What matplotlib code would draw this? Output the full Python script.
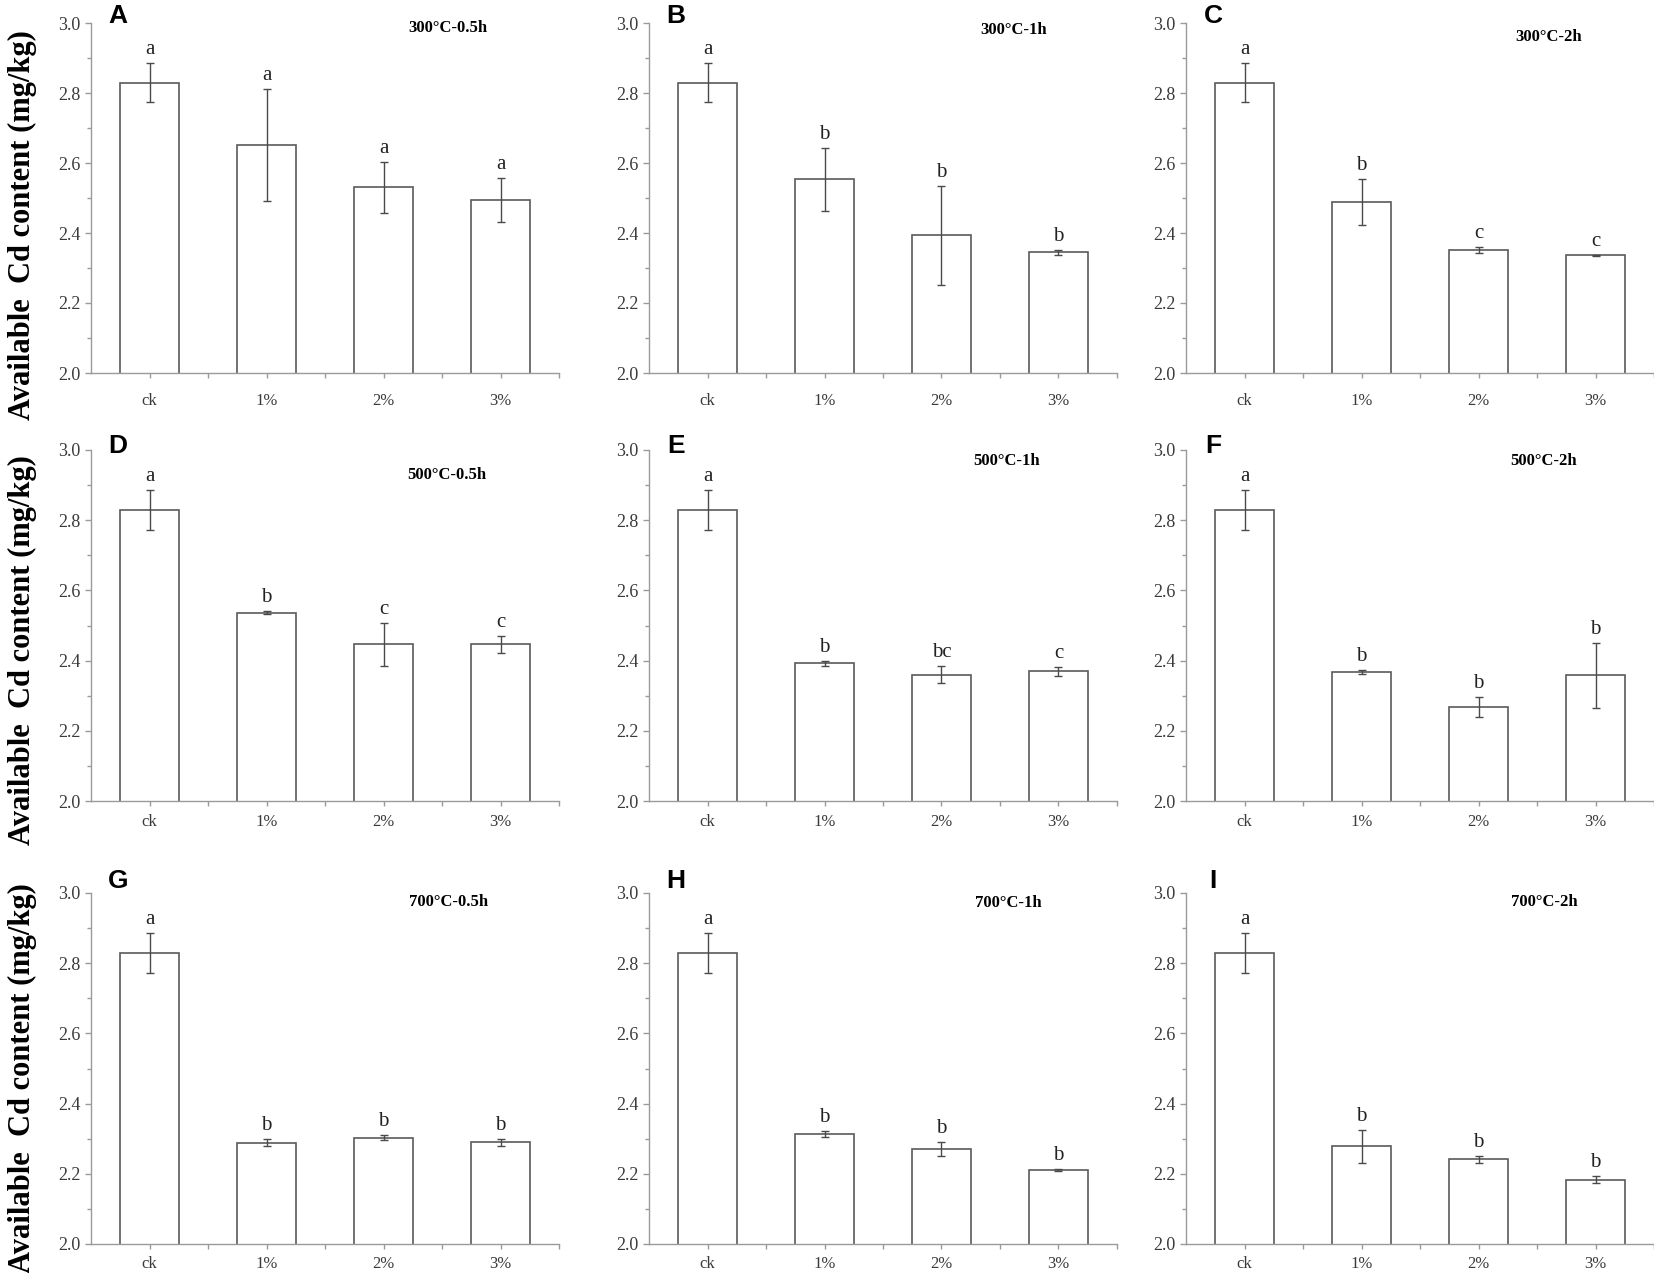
import numpy as np
import matplotlib
matplotlib.use("Agg")
import matplotlib.pyplot as plt
from matplotlib.ticker import MultipleLocator, FixedLocator, FormatStrFormatter

# treatment levels
categories = ["ck", "1%", "2%", "3%"]
panel_letters = ["A", "B", "C", "D", "E", "F", "G", "H", "I"]
panel_titles = ["300°C-0.5h", "300°C-1h", "300°C-2h",
                "500°C-0.5h", "500°C-1h", "500°C-2h",
                "700°C-0.5h", "700°C-1h", "700°C-2h"]

# available Cd content (mg/kg), mean per treatment
means = [
    [2.83, 2.651, 2.531, 2.495],
    [2.83, 2.553, 2.393, 2.345],
    [2.83, 2.489, 2.351, 2.336],
    [2.83, 2.536, 2.446, 2.446],
    [2.83, 2.392, 2.360, 2.370],
    [2.83, 2.367, 2.267, 2.358],
    [2.83, 2.288, 2.303, 2.290],
    [2.83, 2.314, 2.270, 2.210],
    [2.83, 2.279, 2.241, 2.183],
]
# standard deviations
errors = [
    [0.057, 0.160, 0.073, 0.063],
    [0.057, 0.090, 0.141, 0.007],
    [0.057, 0.066, 0.008, 0.002],
    [0.057, 0.004, 0.060, 0.025],
    [0.057, 0.006, 0.025, 0.013],
    [0.057, 0.005, 0.028, 0.093],
    [0.057, 0.010, 0.008, 0.010],
    [0.057, 0.009, 0.020, 0.003],
    [0.057, 0.047, 0.010, 0.010],
]
# significance letters
sig = [
    ["a", "a", "a", "a"],
    ["a", "b", "b", "b"],
    ["a", "b", "c", "c"],
    ["a", "b", "c", "c"],
    ["a", "b", "bc", "c"],
    ["a", "b", "b", "b"],
    ["a", "b", "b", "b"],
    ["a", "b", "b", "b"],
    ["a", "b", "b", "b"],
]

W, H = 1654, 1273
fig = plt.figure(figsize=(W / 100, H / 100), dpi=100)

col_left = [91, 649, 1186]
ax_w = 468
row_tb = [(23, 373), (450, 801), (893, 1244)]
xlab_pad = [11, 5.5, 5.5]
title_xy = [(0.763, 0.986), (0.78, 0.98), (0.775, 0.96),
            (0.76, 0.93), (0.763, 0.97), (0.765, 0.97),
            (0.765, 0.974), (0.768, 0.971), (0.765, 0.974)]
letter_dy = [1.02, 1.012, 1.035]
ylabel_cy = [225, 650, 1078]

axis_grey = "#9a9a9a"
text_grey = "#3a3a3a"
serif = "Liberation Serif"

for k in range(9):
    r, c = divmod(k, 3)
    top, bot = row_tb[r]
    ax = fig.add_axes([col_left[c] / W, (H - bot) / H, ax_w / W, (bot - top) / H])
    x = np.arange(len(categories))
    ax.bar(x, means[k], width=0.5, bottom=0, color="white",
           edgecolor="#5a5a5a", linewidth=1.2, zorder=2)
    ax.errorbar(x, means[k], yerr=errors[k], fmt="none", ecolor="#4a4a4a",
                elinewidth=1.0, capsize=2.6, capthick=1.0, zorder=3)
    for xi, m, e, s in zip(x, means[k], errors[k], sig[k]):
        ax.annotate(s, (xi, m + e), xytext=(0, 9), textcoords="offset pixels",
                    ha="center", va="baseline", fontsize=15,
                    family=serif, color="#222222")

    ax.set_xlim(-0.5, 3.5)
    ax.set_ylim(2.0, 3.0)
    ax.set_xticks(x)
    ax.set_xticklabels(categories)
    ax.xaxis.set_minor_locator(FixedLocator([0.5, 1.5, 2.5, 3.5]))
    ax.yaxis.set_major_locator(MultipleLocator(0.2))
    ax.yaxis.set_minor_locator(MultipleLocator(0.1))
    ax.yaxis.set_major_formatter(FormatStrFormatter("%.1f"))

    for side in ["top", "right"]:
        ax.spines[side].set_visible(False)
    for side in ["left", "bottom"]:
        ax.spines[side].set_color(axis_grey)
        ax.spines[side].set_linewidth(1.0)

    ax.tick_params(axis="y", which="major", direction="out", length=4.5,
                   width=1, color=axis_grey, pad=3, labelsize=13,
                   labelcolor=text_grey)
    ax.tick_params(axis="y", which="minor", direction="out", length=3,
                   width=1, color=axis_grey)
    ax.tick_params(axis="x", which="both", direction="out", length=3.5,
                   width=1, color=axis_grey, pad=xlab_pad[r], labelsize=12,
                   labelcolor=text_grey)
    for lab in ax.get_xticklabels() + ax.get_yticklabels():
        lab.set_family(serif)

    ax.text(title_xy[k][0], title_xy[k][1], panel_titles[k], transform=ax.transAxes,
            ha="center", va="center", fontsize=12, fontweight="bold",
            family=serif, color="black")
    ax.text(0.058, letter_dy[r], panel_letters[k], transform=ax.transAxes,
            ha="center", va="center", fontsize=19, fontweight="bold",
            family="Liberation Sans", color="black")

for r in range(3):
    fig.text(22 / W, (H - ylabel_cy[r]) / H, "Available  Cd content (mg/kg)",
             rotation=90, ha="center", va="center", fontsize=22,
             fontweight="bold", family=serif, color="black")

fig.savefig("out.png", dpi=100)
